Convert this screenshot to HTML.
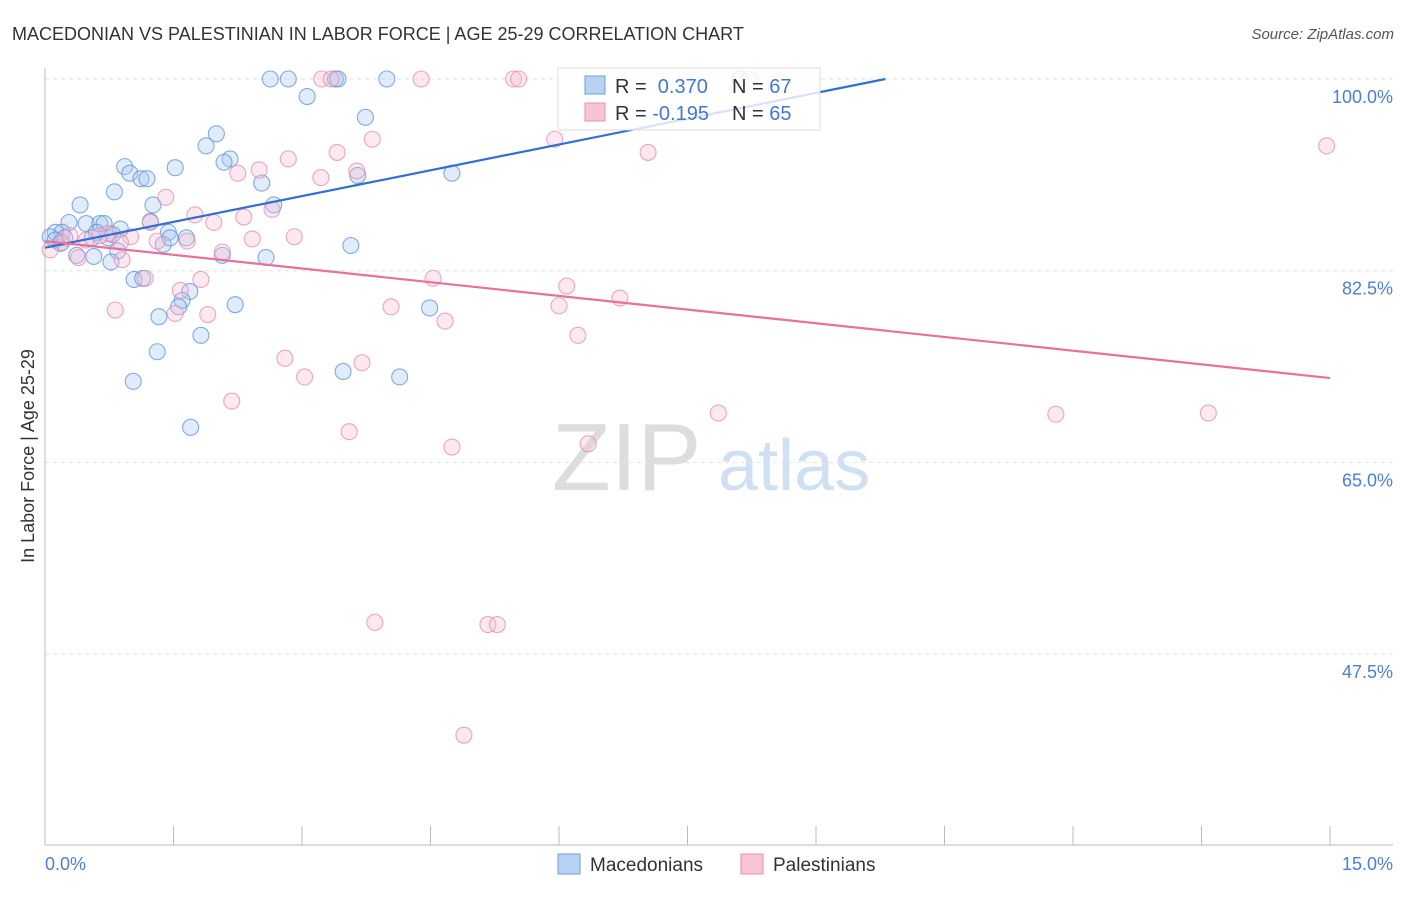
<!DOCTYPE html>
<html><head><meta charset="utf-8"><style>
body{margin:0;background:#fff;font-family:"Liberation Sans",sans-serif;}
svg text{font-family:"Liberation Sans",sans-serif;}
</style></head><body>
<svg id="chart" width="1406" height="892">
<text x="12" y="40" font-size="18" fill="#333">MACEDONIAN VS PALESTINIAN IN LABOR FORCE | AGE 25-29 CORRELATION CHART</text>
<text x="1394" y="39" font-size="15" fill="#555" font-style="italic" text-anchor="end">Source: ZipAtlas.com</text>
<g><text x="552" y="490" font-size="96" fill="#ddd" font-family="Liberation Serif">ZIP</text><text x="718" y="490" font-size="72" fill="#d0e0f4">atlas</text></g>
<g id="grid"></g><g id="axes"></g><g id="pts"></g><g id="trends"></g>
<text transform="translate(34,456) rotate(-90)" font-size="18" fill="#333" text-anchor="middle">In Labor Force | Age 25-29</text>
<g>
<rect x="558" y="68" width="262" height="62" fill="#fff" fill-opacity="0.8" stroke="#ddd"/>
<rect x="585" y="76" width="20" height="18" fill="#b8d2f4" stroke="#6a9fe0"/>
<rect x="585" y="103" width="20" height="18" fill="#f8c4d4" stroke="#e890ae"/>
<text x="615" y="93" font-size="20" fill="#333">R = <tspan fill="#3d7ad6">&#160;0.370</tspan></text>
<text x="732" y="93" font-size="20" fill="#333">N = <tspan fill="#3d7ad6">67</tspan></text>
<text x="615" y="120" font-size="20" fill="#333">R = <tspan fill="#3d7ad6">-0.195</tspan></text>
<text x="732" y="120" font-size="20" fill="#333">N = <tspan fill="#3d7ad6">65</tspan></text>
</g>
<g>
<rect x="558" y="854" width="22" height="20" fill="#b8d2f4" stroke="#6a9fe0"/>
<text x="590" y="871" font-size="19" fill="#333">Macedonians</text>
<rect x="741" y="854" width="22" height="20" fill="#f8c4d4" stroke="#e890ae"/>
<text x="773" y="871" font-size="19" fill="#333">Palestinians</text>
</g>
</svg>
<script>
const yTicks=[100,82.5,65,47.5];
const yTickLabels=["100.0%","82.5%","65.0%","47.5%"];
const xTickLabels=["0.0%","15.0%"];
const macX=[2.63,2.84,3.39,3.42,3.99,8.11,3.06,3.74,2.00,1.88,2.16,2.09,0.93,0.99,1.12,1.19,1.52,0.81,2.53,3.65,4.75,0.41,1.26,2.67,1.23,0.28,0.48,0.64,0.69,0.88,1.44,1.65,0.12,0.20,0.06,0.23,0.55,0.74,1.38,3.57,0.37,0.57,0.85,2.07,2.58,0.77,1.04,1.14,1.69,1.60,1.56,2.22,4.49,1.33,1.82,1.31,3.48,4.14,1.03,1.70,0.12,0.18,0.60,0.79,1.46];
const macY=[100,100,100,100,100,100,98.4,96.5,95.0,93.9,92.7,92.4,92.0,91.4,90.9,90.9,91.9,89.7,90.5,91.2,91.4,88.5,88.5,88.5,87.0,86.9,86.8,86.8,86.8,86.3,86.0,85.5,86.0,86.0,85.6,85.5,85.5,85.5,84.9,84.8,83.9,83.8,84.3,83.9,83.7,83.3,81.7,81.8,80.6,79.8,79.2,79.4,79.1,78.3,76.6,75.1,73.3,72.8,72.4,68.2,85.3,85.0,86.0,85.8,85.5];
const palX=[3.23,3.34,4.39,5.47,5.53,8.23,14.96,3.82,5.95,7.04,3.41,2.84,2.50,2.25,3.22,3.64,1.41,2.65,1.75,2.32,1.97,1.23,2.91,2.42,1.66,1.31,1.00,0.88,0.74,0.48,0.20,0.06,0.39,0.90,2.07,1.17,1.82,4.53,6.09,6.71,1.58,4.04,6.00,0.82,1.52,1.90,4.67,6.22,2.80,3.70,3.03,2.18,7.86,11.80,13.58,3.55,4.75,6.34,3.85,5.17,5.28,4.89,0.64,0.29];
const palY=[100,100,100,100,100,100,93.9,94.5,94.5,93.3,93.3,92.7,91.7,91.4,91.0,91.6,89.2,88.1,87.6,87.4,86.9,86.9,85.6,85.4,85.2,85.2,85.6,85.1,85.9,85.3,85.1,84.4,83.7,83.5,84.2,81.8,81.7,81.8,81.1,80.0,80.7,79.2,79.3,78.9,78.6,78.5,77.9,76.6,74.5,74.1,72.8,70.6,69.5,69.4,69.5,67.8,66.4,66.7,50.4,50.2,50.2,40.1,85.7,85.7];
const macTrend=[[0,84.6],[9.81,100]];
const palTrend=[[0,85.2],[15,72.7]];
const NS="http://www.w3.org/2000/svg";
const sx=v=>45+v/15*1285, sy=v=>79+(100-v)/17.5*191.7;
function mk(t,a,p){const e=document.createElementNS(NS,t);for(const k in a)e.setAttribute(k,a[k]);document.getElementById(p).appendChild(e);return e;}
const g=mk('line',{x1:45,x2:1393,y1:79,y2:79,stroke:'#ddd','stroke-dasharray':'4,4'},'grid');


yTicks.forEach((t,i)=>{
 const l=mk('line',{x1:45,x2:1393,y1:sy(t),y2:sy(t),stroke:'#e2e2e2','stroke-dasharray':'4,4'},'grid');
 
 
 const tx=mk('text',{x:1393,y:sy(t)+24,'font-size':18,fill:'#4a7fd4','text-anchor':'end'},'axes');tx.textContent=yTickLabels[i];
 
 
});
const ax=mk('line',{x1:45,x2:45,y1:68,y2:845,stroke:'#bbb'},'axes');


const bx=mk('line',{x1:45,x2:1393,y1:845,y2:845,stroke:'#bbb'},'axes');


for(let i=0;i<=10;i++){const t=mk('line',{x1:sx(i*1.5),x2:sx(i*1.5),y1:826,y2:845,stroke:'#bbb'},'axes');
 
 }
[[0,'start',45],[1,'end',1393]].forEach(([i,a,x])=>{const t=mk('text',{x:x,y:870,'font-size':18,fill:'#4a7fd4','text-anchor':a},'axes');t.textContent=xTickLabels[i];
 
 });
function pts(X,Y,fill,stroke,name){X.forEach((x,i)=>{const c=mk('circle',{cx:sx(x),cy:sy(Y[i]),r:8,fill:fill,'fill-opacity':0.35,stroke:stroke,'stroke-opacity':0.75,'stroke-width':1.1},'pts');
 
 });}
pts(macX,macY,'#a8c8f0','#5a90dc','macedonian-point');
pts(palX,palY,'#f7bcd0','#e88aab','palestinian-point');
const l1=mk('line',{x1:sx(macTrend[0][0]),y1:sy(macTrend[0][1]),x2:sx(macTrend[1][0]),y2:sy(macTrend[1][1]),stroke:'#2f6fd6','stroke-width':2.2},'trends');


const l2=mk('line',{x1:sx(palTrend[0][0]),y1:sy(palTrend[0][1]),x2:sx(palTrend[1][0]),y2:sy(palTrend[1][1]),stroke:'#e8709a','stroke-width':2.2},'trends');


</script>
</body></html>
